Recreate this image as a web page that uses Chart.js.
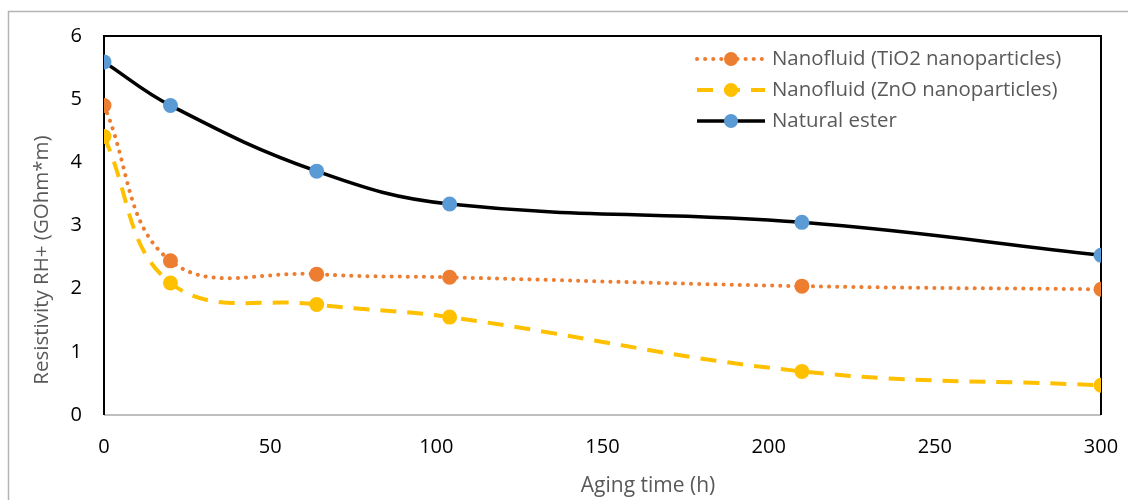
<!DOCTYPE html>
<html>
<head>
<meta charset="utf-8">
<script src="https://cdn.jsdelivr.net/npm/chart.js@4/dist/chart.umd.min.js"></script>
<style>
  html, body { margin: 0; padding: 0; background: #fff; }
  #wrap { position: absolute; left: 0; top: 0; width: 1128px; height: 500px; }
</style>
</head>
<body>
<div id="wrap"><canvas id="chart_rh"></canvas></div>
<script>
// aging time (h)
const AGING_TIME = [ 0, 20, 64, 104, 210, 300 ];

// resistivity RH+ (GOhm*m)
const TIO2_VALUES = [ 4.90, 2.44, 2.23, 2.18, 2.04, 1.99 ];
const ZNO_VALUES = [ 4.41, 2.09, 1.75, 1.55, 0.69, 0.47 ];
const ESTER_VALUES = [ 5.59, 4.90, 3.86, 3.34, 3.05, 2.53 ];

const SERIES_LABELS = [
  'Nanofluid (TiO2 nanoparticles)',
  'Nanofluid (ZnO nanoparticles)',
  'Natural ester'
];

const X_TICKS = [ 0, 50, 100, 150, 200, 250, 300 ];
const Y_TICKS = [ 0, 1, 2, 3, 4, 5, 6 ];

const X_TITLE = 'Aging time (h)';
const Y_TITLE = 'Resistivity RH+ (GOhm*m)';

const FONT = '"Open Sans", Lato, sans-serif';

function to_points( values ) {
  return values.map( ( v, i ) => ( { x: AGING_TIME[ i ], y: v } ) );
}

// draws frame, axis titles and the legend the way the spreadsheet does
const frame_plugin = {
  id: 'frame_plugin',
  afterDraw( chart ) {
    const ctx = chart.ctx;
    ctx.save();
    // outer chart border
    ctx.strokeStyle = '#b4b4b4';
    ctx.lineWidth = 1.5;
    ctx.beginPath();
    ctx.moveTo( 8.5, 500 );
    ctx.lineTo( 8.5, 11.5 );
    ctx.lineTo( 1128, 11.5 );
    ctx.stroke();

    // axis titles
    ctx.fillStyle = '#595959';
    ctx.textAlign = 'center';
    ctx.textBaseline = 'middle';
    ctx.font = '21px ' + FONT;
    ctx.fillText( X_TITLE, 648, 486 );
    ctx.translate( 42, 260 );
    ctx.rotate( -Math.PI / 2 );
    ctx.font = '20.5px ' + FONT;
    ctx.fillText( Y_TITLE, 0, 0 );
    ctx.restore();

    // legend
    ctx.save();
    const rows = [ 59, 90, 121 ];
    chart.data.datasets.forEach( ( ds, i ) => {
      const y = rows[ i ];
      ctx.strokeStyle = ds.borderColor;
      ctx.lineWidth = ds.borderWidth;
      ctx.lineCap = ds.borderCapStyle || 'butt';
      ctx.setLineDash( ds.borderDash || [] );
      ctx.beginPath();
      ctx.moveTo( 697, y );
      ctx.lineTo( 765, y );
      ctx.stroke();
      ctx.setLineDash( [] );
      ctx.fillStyle = ds.pointBackgroundColor;
      ctx.beginPath();
      ctx.arc( 731, y, 7, 0, Math.PI * 2 );
      ctx.fill();
      ctx.fillStyle = '#595959';
      ctx.font = '20.4px ' + FONT;
      ctx.textAlign = 'left';
      ctx.textBaseline = 'middle';
      ctx.fillText( ds.label, 772, y );
    } );
    ctx.restore();
  },
  beforeDatasetsDraw( chart ) {
    const ctx = chart.ctx;
    const a = chart.chartArea;
    ctx.save();
    ctx.lineWidth = 2;
    ctx.strokeStyle = '#bfbfbf';
    ctx.beginPath();
    ctx.moveTo( a.left, a.bottom );
    ctx.lineTo( a.right, a.bottom );
    ctx.stroke();
    ctx.strokeStyle = '#000';
    ctx.beginPath();
    ctx.moveTo( a.left, a.bottom );
    ctx.lineTo( a.left, a.top );
    ctx.lineTo( a.right, a.top );
    ctx.lineTo( a.right, a.bottom );
    ctx.stroke();
    ctx.restore();
  }
};

function create_chart() {
  const ctx = document.getElementById( 'chart_rh' ).getContext( '2d' );
  return new Chart( ctx, {
    type: 'line',
    data: {
      datasets: [ {
        label: SERIES_LABELS[ 0 ],
        data: to_points( TIO2_VALUES ),
        borderColor: '#ed7d31',
        borderWidth: 4,
        borderDash: [ 0.1, 8 ],
        borderCapStyle: 'round',
        pointBackgroundColor: '#ed7d31',
        pointBorderWidth: 0,
        pointRadius: 7.5,
        tension: 0.4,
        order: 2
      }, {
        label: SERIES_LABELS[ 1 ],
        data: to_points( ZNO_VALUES ),
        borderColor: '#ffc000',
        borderWidth: 4,
        borderDash: [ 16, 11 ],
        borderCapStyle: 'butt',
        pointBackgroundColor: '#ffc000',
        pointBorderWidth: 0,
        pointRadius: 7.5,
        tension: 0.4,
        order: 3
      }, {
        label: SERIES_LABELS[ 2 ],
        data: to_points( ESTER_VALUES ),
        borderColor: '#000000',
        borderWidth: 3.5,
        pointBackgroundColor: '#5b9bd5',
        pointBorderWidth: 0,
        pointRadius: 7.5,
        tension: 0.4,
        order: 1
      } ]
    },
    options: {
      responsive: false,
      animation: false,
      devicePixelRatio: 1,
      layout: { padding: { left: 0, right: 27, top: 36, bottom: 0 } },
      plugins: {
        legend: { display: false },
        tooltip: { enabled: false }
      },
      scales: {
        x: {
          type: 'linear',
          min: 0,
          max: 300,
          afterBuildTicks: axis => {
            axis.ticks = X_TICKS.map( v => ( { value: v } ) );
          },
          afterFit: axis => {
            axis.height = 85;
            axis.paddingRight = 0;
            axis.paddingLeft = 0;
          },
          grid: { display: false, drawTicks: false },
          border: { display: false },
          ticks: {
            color: '#000',
            font: { family: FONT, size: 20 },
            padding: 20,
            maxRotation: 0
          }
        },
        y: {
          min: 0,
          max: 6,
          afterBuildTicks: axis => {
            axis.ticks = Y_TICKS.map( v => ( { value: v } ) );
          },
          afterFit: axis => {
            axis.width = 104;
            axis.paddingTop = 0;
            axis.paddingBottom = 0;
          },
          grid: { display: false, drawTicks: false },
          border: { display: false },
          ticks: {
            color: '#000',
            font: { family: FONT, size: 20 },
            padding: 22
          }
        }
      }
    },
    plugins: [ frame_plugin ]
  } );
}

document.addEventListener( 'DOMContentLoaded', function () {
  const cv = document.getElementById( 'chart_rh' );
  cv.width = 1128;
  cv.height = 500;
  create_chart();
} );
</script>
</body>
</html>
